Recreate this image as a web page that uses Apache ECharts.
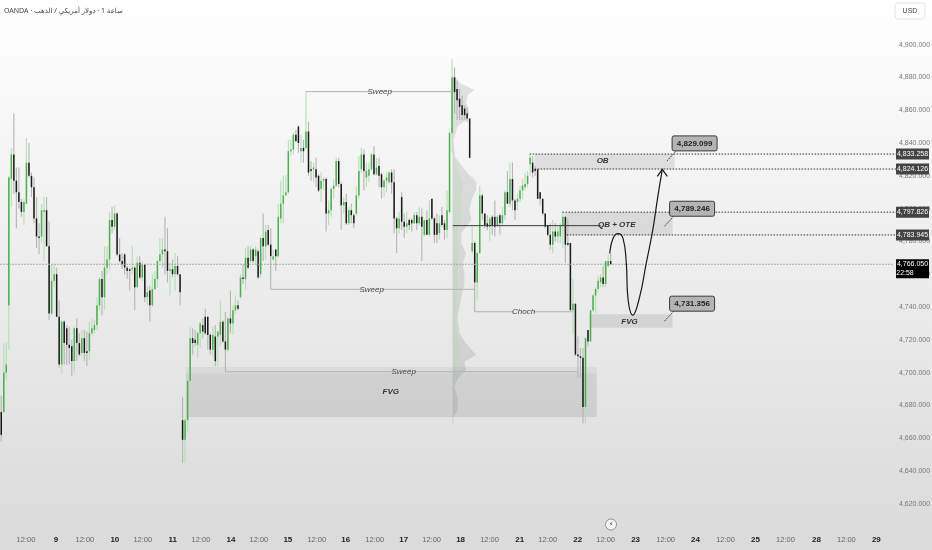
<!DOCTYPE html>
<html><head><meta charset="utf-8">
<style>html,body{margin:0;padding:0;background:#fff}#c{width:932px;height:550px}</style>
<script src="https://cdn.jsdelivr.net/npm/echarts@6/dist/echarts.min.js"></script>
</head><body><div id="c"></div>
<script>
const chartTitle = 'OANDA · ساعة 1 · دولار أمريكي / الذهب';
// [open, close, low, high] per hourly candle
const candlesA = [[4676,4662,4658,4686],[4676,4700,4675,4718],[4700,4705,4695,4719],[4741,4819,4714,4820],[4818,4833,4801,4837],[4833,4817,4809,4858],[4817,4810,4788,4825],[4810,4804,4800,4825],[4804,4798,4795,4806],[4798,4804,4790,4806],[4803,4828,4803,4843],[4828,4820,4819,4840],[4820,4813,4807,4822],[4813,4794,4791,4819],[4794,4783,4776,4807],[4783,4782,4772,4791],[4783,4799,4779,4803],[4798,4799,4768,4807],[4799,4777,4777,4807],[4777,4736,4732,4792],[4736,4756,4735,4766],[4756,4760,4752,4766],[4760,4734,4734,4764],[4734,4705,4703,4744],[4705,4731,4699,4732],[4731,4718,4705,4732],[4727,4717,4705,4729],[4717,4715,4705,4728],[4716,4707,4698,4720],[4707,4727,4700,4728],[4727,4718,4707,4733],[4718,4711,4710,4724],[4712,4721,4710,4726],[4721,4712,4707,4726],[4713,4712,4704,4725],[4713,4724,4708,4731],[4724,4727,4723,4733],[4726,4729,4724,4732],[4729,4741,4726,4746],[4741,4757,4738,4758],[4757,4746,4735,4762],[4746,4764,4738,4777],[4764,4769,4760,4777],[4769,4793,4763,4798],[4793,4789,4785,4801],[4789,4797,4787,4802],[4797,4772,4771,4798],[4772,4768,4767,4782],[4768,4766,4763,4773],[4772,4764,4760,4773],[4764,4762,4757,4765],[4763,4762,4750,4764],[4763,4764,4760,4777],[4764,4752,4738,4765],[4752,4767,4752,4771],[4767,4758,4757,4771],[4758,4766,4756,4768],[4766,4746,4743,4766],[4746,4749,4741,4753],[4750,4741,4731,4753],[4741,4751,4740,4760],[4751,4757,4750,4762],[4757,4768,4752,4769],[4768,4772,4767,4782],[4772,4775,4764,4782],[4775,4774,4760,4795],[4774,4762,4755,4788],[4762,4763,4747,4767],[4763,4760,4758,4769],[4760,4765,4750,4773],[4765,4760,4759,4771],[4760,4749,4741,4760]];
const candlesB = [[4671,4659,4645,4685],[4659,4671,4645,4672],[4671,4695,4664,4696],[4695,4721,4694,4728],[4721,4718,4711,4727],[4720,4718,4716,4726],[4717,4724,4709,4725],[4724,4730,4715,4731],[4729,4725,4721,4733],[4734,4724,4723,4739],[4734,4723,4714,4734],[4723,4714,4711,4724],[4714,4723,4710,4728],[4722,4707,4704,4729],[4722,4725,4704,4725],[4723,4731,4716,4744],[4731,4719,4718,4732],[4719,4714,4700.5,4737],[4714,4733,4713,4734],[4733,4730,4724,4750],[4730,4738,4723,4741],[4738,4741,4736,4747],[4741,4739,4738,4744],[4746,4758,4745,4760],[4758,4757,4754,4766],[4757,4770,4751,4776],[4770,4764,4763,4777],[4768,4775,4767,4777],[4775,4768,4767,4776],[4771,4775,4766,4777],[4774,4758,4757,4775],[4760,4782,4758,4783],[4782,4777,4768,4797],[4777,4786,4769,4790],[4787,4778,4777,4790],[4778,4771,4751,4788],[4769,4771,4768,4775],[4775,4771,4762,4775],[4771,4795,4770,4803],[4794,4803,4791,4817],[4803,4808,4791,4820],[4808,4810,4809,4820.5],[4810,4835,4809,4842],[4835,4836,4832,4842],[4836,4845,4833,4846],[4845,4841,4841,4848]];
const candlesC = [[4850,4840,4834,4851],[4835,4837,4828,4845],[4837,4835,4828,4842],[4837,4847,4836,4871],[4847,4822,4820,4853],[4824,4823,4817,4829],[4824,4825,4816,4828],[4824,4819,4813,4831],[4820,4811,4810,4821],[4812,4817,4804,4822],[4817,4818,4811,4819],[4818,4797,4786,4819],[4797,4799,4790,4805],[4799,4812,4795,4813],[4812,4814,4806,4818],[4814,4829,4813,4831],[4829,4815,4813,4831],[4815,4802,4787,4816],[4802,4804,4797,4807],[4804,4791,4790,4809],[4791,4799,4790,4801],[4799,4796,4791,4803],[4796,4791,4788,4797],[4797,4808,4796,4813],[4808,4823,4806,4832],[4824,4833,4822,4837],[4833,4823,4811,4836],[4819,4823,4813,4828],[4820,4824,4816,4828],[4824,4833,4823,4834],[4833,4821,4820,4838],[4821,4825,4820,4831],[4826,4820,4813,4831],[4821,4813,4806,4822],[4813,4817,4807,4818],[4817,4819,4810,4822],[4816,4822,4815,4823],[4822,4816,4809,4824],[4816,4794,4785,4824],[4794,4788,4773,4795],[4788,4794,4785,4798],[4807,4792,4787,4810],[4792,4789,4782,4797],[4789,4791,4785,4798],[4793,4790,4787,4794],[4793,4791,4786,4794],[4791,4796,4791,4798],[4796,4791,4787,4798],[4791,4795,4790,4801],[4795,4789,4768,4800],[4784,4793,4783,4793],[4793,4784,4784,4799],[4784,4794,4783,4805],[4806,4794,4793,4806],[4794,4784,4779,4795],[4791,4784,4779,4797],[4785,4791,4781,4796],[4796,4790,4789,4801],[4791,4787,4781,4793],[4787,4799,4782,4811],[4798,4846,4797,4847],[4846,4880,4834,4891],[4880,4871,4858,4886],[4873,4866,4854,4878],[4867,4862,4854,4873],[4863,4857,4854,4869],[4861,4857,4854,4863],[4858,4855,4853,4862],[4855,4831,4830.5,4855]];
const candlesD = [[4774,4779,4773,4789],[4779,4755,4737,4780],[4755,4773,4744,4774],[4773,4808,4772,4814],[4808,4797,4793,4809],[4797,4790,4788,4797],[4791,4789,4787,4796],[4789,4794,4780,4795],[4795,4790,4784,4796],[4795,4789,4783,4805],[4790,4795,4789,4796],[4796,4791,4784,4797],[4791,4796,4790,4801],[4796,4810,4793,4811],[4810,4803,4803,4823],[4803,4818,4801,4828],[4818,4805,4799,4828],[4805,4799,4793,4806],[4804,4806,4799,4809],[4806,4811,4804,4814],[4811,4814,4806,4818],[4813,4815,4811,4822],[4815,4820,4813,4823],[4827,4831,4820,4833],[4828,4822,4819,4832],[4824,4823,4820,4826],[4824,4806,4806,4824],[4810,4806,4802,4810],[4806,4797,4796,4806],[4797,4789,4788,4797],[4790,4784,4783,4790],[4784,4778,4775,4791],[4778,4786,4773,4793],[4786,4783,4780,4791],[4783,4786,4779,4789],[4783,4790,4779,4791],[4790,4795,4776,4798],[4795,4778,4767,4795],[4779,4778,4777,4794],[4779,4738,4738,4779],[4738,4742,4724,4757],[4742,4711,4710,4742],[4711,4710,4697,4722],[4710,4709,4697,4715],[4709,4679,4669,4715],[4679,4721,4669,4721],[4726,4719,4716,4726],[4719,4738,4719,4738],[4738,4747,4737,4748],[4747,4751,4736,4752],[4751,4756,4749,4759],[4755,4758,4752,4760],[4758,4754,4752,4765],[4754,4768,4752,4768],[4765,4768,4764,4772],[4768,4766,4765.6,4773]];

const yMin = 4600, yMax = 4920, yStep = 20;
const lastPrice = 4766.05, countdown = '22:58';
const xTickPositions = [9.8,21.7,33.2,45.1,56.2,68.1,79.3,91.2,102.3,113.8,125.3,136.8,148.3,159.8,170.9,182.4,193.9,205.9,217,228.9,240,251.9,263.8,275.7,287.6,299.5,311.4,323.7,335.6,347.5];
const xTickLabels = ['12:00','9','12:00','10','12:00','11','12:00','14','12:00','15','12:00','16','12:00','17','12:00','18','12:00','21','12:00','22','12:00','23','12:00','24','12:00','25','12:00','28','12:00','29'];

// zones: [fromHour, toHour, topPrice, bottomPrice]
const zoneFvgBand = [73.3, 236.5, 4703.4, 4699.5];
const zoneFvgBig  = [73.3, 236.5, 4699.5, 4672.9];
const zoneOb      = [211.8, 267.4, 4833.258, 4824.126];
const zoneOte     = [223.8, 266.6, 4797.826, 4783.945];
const zoneFvgLow  = [233.6, 266.6, 4735.6, 4727.4];

// levels: from, to, price, label, label position
const levelLines = [
  [120.9,179.1,4871.3,'Sweep',150.3],
  [107,188,4750.8,'Sweep',147.1],
  [188,227,4737.1,'Choch',207.4],
  [89,229,4700.5,'Sweep',159.8]
];
const zoneLabels = [['FVG',154.7,4688.2],['OB',238.8,4829],['QB + OTE',244.4,4790.2],['FVG',249.5,4731]];
const strongLine = [179.3,238,4789.6];
const dottedLevels = [[209.8,4833.258],[211.8,4824.126],[222.9,4797.826],[224.5,4783.945]];
const calloutPoints = [[264.4,4829.099],[263.4,4789.246],[263.4,4731.356]];
// projected path: [hour, price]
const pathPoints = [[241.6,4772.7],[242.9,4781.8],[244.9,4784.7],[246.9,4781.8],[248.2,4766.6],[248.8,4746.2],[250.8,4735],[253.5,4746.2],[256.1,4766.6],[258.7,4786.9],[260.7,4807.2],[262.5,4823.9]];

// volume profile: [price, total width, green width], widths in hours
const profileRows = [[4880.4,1,0],[4876.4,3,0],[4872.3,8.8,0],[4869.3,6,0],[4865.2,5.4,0],[4862.1,6,0],[4858,6.7,0],[4854,5.4,0],[4850,2,0],[4841.8,.4,0],[4831.6,1,.8],[4826.6,3.5,1.5],[4821.5,6,2.5],[4816.4,9.4,4],[4811.3,9.4,4],[4805.2,7.5,3.5],[4799.1,6.7,3.5],[4793,7.5,3.5],[4789,5.4,2.5],[4784.9,3.5,2],[4778.8,3.5,2],[4772.7,5.4,2.5],[4766.6,4,2],[4760.5,4.7,2],[4754.4,4.7,2],[4746.3,3.5,1.5],[4740.2,2.8,1.5],[4734,2,1],[4723.9,2.8,1.5],[4717.8,5.4,2.5],[4710.7,9.4,3],[4706.6,4.7,1.5],[4701.5,5.4,1.5],[4696.4,2,.8],[4691.4,.8,.4],[4684.2,2,.8],[4677.1,2,.8],[4673.1,.4,.2],[4669,.2,.1]];
const profileBase = 179.2;

const candles = [...candlesA, ...candlesB, ...candlesC, ...candlesD];
const fmt = v => v.toLocaleString('en-US',{minimumFractionDigits:3,maximumFractionDigits:3});
const font = '"Liberation Sans",sans-serif';
const tickLookup = {}; xTickPositions.forEach((p,i)=>tickLookup[p]=xTickLabels[i]);
const xEnd = 354.5;

function text(x,y,t,s,extra){return Object.assign({type:'text',style:Object.assign({x,y,text:t,align:'center',verticalAlign:'middle',fontFamily:font},s)},extra||{});}
function seg(a,b,s){return {type:'line',shape:{x1:a[0],y1:a[1],x2:b[0],y2:b[1]},style:s};}

function zoneSeries(rows,color,z){return {type:'custom',coordinateSystem:'cartesian2d',z,clip:true,silent:true,
  data:rows,renderItem:(p,api)=>{const a=api.coord([api.value(0),api.value(2)]),b=api.coord([api.value(1),api.value(3)]);
  return {type:'rect',shape:{x:a[0],y:a[1],width:b[0]-a[0],height:b[1]-a[1]},style:{fill:color}};},encode:{x:[0,1],y:[2,3]}};}

function profilePoly(col,color,z){return {type:'custom',coordinateSystem:'cartesian2d',z,silent:true,clip:true,
  data:[[profileBase,profileRows[0][0]]],encode:{x:0,y:1},
  renderItem:(p,api)=>{const pts=[];const base0=api.coord([profileBase,profileRows[0][0]]);pts.push(base0);
    profileRows.forEach(r=>pts.push(api.coord([profileBase+r[col],r[0]])));
    pts.push(api.coord([profileBase,profileRows[profileRows.length-1][0]]));
    return {type:'polygon',shape:{points:pts},style:{fill:color}};}};}

const option = {
  animation:false,
  backgroundColor:{type:'linear',x:0,y:0,x2:0,y2:1,colorStops:[{offset:0,color:'#ffffff'},{offset:1,color:'#dadada'}]},
  title:{text:chartTitle,left:4,top:7,padding:0,textStyle:{fontSize:7,fontWeight:'normal',color:'#444',fontFamily:'"Noto Sans","DejaVu Sans",sans-serif'}},
  grid:{left:0,top:11.8,width:894,height:524.8,outerBoundsMode:'none'},
  xAxis:{type:'value',min:-0.5,max:xEnd,splitLine:{show:false},axisLine:{show:false},axisTick:{show:false},
    axisLabel:{customValues:xTickPositions,margin:-1,hideOverlap:false,showMinLabel:true,showMaxLabel:true,fontFamily:font,
      formatter:v=>{const t=tickLookup[v];return t==='12:00'?'{t|12:00}':'{d|'+t+'}';},
      rich:{t:{fontSize:7.5,color:'#666',fontFamily:font},d:{fontSize:8,fontWeight:'bold',color:'#222',fontFamily:font}}}},
  yAxis:{type:'value',position:'right',min:yMin,max:yMax,interval:yStep,splitLine:{show:false},axisLine:{show:false},axisTick:{show:false},
    axisLabel:{showMinLabel:false,showMaxLabel:false,margin:5,fontSize:7,color:'#777',fontFamily:font,formatter:fmt}},
  series:[
    zoneSeries([zoneFvgBand],'rgba(0,0,0,0.05)',1),
    zoneSeries([zoneFvgBig],'rgba(0,0,0,0.09)',1),
    zoneSeries([zoneOb,zoneOte,zoneFvgLow],'rgba(0,0,0,0.09)',1),
    profilePoly(1,'rgba(110,110,110,0.18)',2),
    profilePoly(2,'rgba(140,215,140,0.16)',2),
    {type:'custom',coordinateSystem:'cartesian2d',z:3,silent:true,data:candles.map((c,i)=>[i,...c]),encode:{x:0,y:[1,2,3,4]},
      renderItem:(p,api)=>{const x=api.value(0),o=api.value(1),c=api.value(2),l=api.value(3),h=api.value(4);
        const up=c>o;const pH=api.coord([x,h]),pL=api.coord([x,l]),pT=api.coord([x,Math.max(o,c)]),pB=api.coord([x,Math.min(o,c)]);
        return {type:'group',children:[
          seg(pH,pL,{stroke:up?'#b2dfb4':'#b4b4b4',lineWidth:1.1}),
          {type:'rect',shape:{x:pT[0]-0.75,y:pT[1],width:1.5,height:Math.max(pB[1]-pT[1],1)},style:{fill:up?'#4caf50':'#1a1a1a'}}
        ]};}},
    {type:'custom',coordinateSystem:'cartesian2d',z:4,silent:true,clip:false,data:levelLines.map(r=>[r[0],r[2]]),encode:{x:0,y:1},
      renderItem:(p,api)=>{const r=levelLines[p.dataIndex],a=api.coord([r[0],r[2]]),b=api.coord([r[1],r[2]]),m=api.coord([r[4],r[2]]);
        const s={stroke:'#b0b0b0',lineWidth:1};
        return {type:'group',children:[seg(a,[m[0]-10,m[1]],s),seg([m[0]+10,m[1]],b,s),
          text(m[0],m[1],r[3],{fontSize:8,fontStyle:'italic',fill:'#444'})]};}},
    {type:'custom',coordinateSystem:'cartesian2d',z:4,silent:true,data:zoneLabels.map(r=>[r[1],r[2]]),encode:{x:0,y:1},
      renderItem:(p,api)=>{const c=api.coord([api.value(0),api.value(1)]);
        return text(c[0],c[1],zoneLabels[p.dataIndex][0],{fontSize:8,fontStyle:'italic',fontWeight:'bold',fill:'#333'});}},
    {type:'line',z:4,silent:true,symbol:'none',showSymbol:false,data:[[strongLine[0],strongLine[2]],[strongLine[1],strongLine[2]]],lineStyle:{color:'#3a3a3a',width:1}},
    {type:'line',z:4,silent:true,symbol:'none',showSymbol:false,data:[[-0.5,lastPrice],[xEnd,lastPrice]],lineStyle:{color:'#a8a8a8',width:1,type:[2,1]}},
    {type:'custom',coordinateSystem:'cartesian2d',z:4,silent:true,clip:false,data:dottedLevels,encode:{x:0,y:1},
      renderItem:(p,api)=>{const a=api.coord([api.value(0),api.value(1)]),b=api.coord([xEnd,api.value(1)]);
        return {type:'group',children:[
          seg(a,[b[0]+2,b[1]],{stroke:'#333',lineWidth:1,lineDash:[1.5,1.5]}),
          {type:'rect',shape:{x:b[0]+2,y:b[1]-5.5,width:33,height:11},style:{fill:'#444'}},
          text(b[0]+18.5,b[1],fmt(api.value(1)),{fontSize:7,fill:'#fff'})]};}},
    {type:'custom',coordinateSystem:'cartesian2d',z:6,silent:true,clip:false,data:[[xEnd,lastPrice]],encode:{x:0,y:1},
      renderItem:(p,api)=>{const b=api.coord([xEnd,api.value(1)]);
        return {type:'group',children:[
          {type:'rect',shape:{x:b[0]+2,y:b[1]-5,width:33,height:19},style:{fill:'#000'}},
          text(b[0]+18.5,b[1],fmt(api.value(1)),{fontSize:7,fill:'#fff'}),
          text(b[0]+11,b[1]+9,countdown,{fontSize:7,fill:'#fff'})]};}},
    {type:'line',z:5,silent:true,symbol:'none',showSymbol:false,smooth:0.45,data:pathPoints,lineStyle:{color:'#1a1a1a',width:1.2}},
    {type:'custom',coordinateSystem:'cartesian2d',z:5,silent:true,data:[pathPoints[pathPoints.length-1]],encode:{x:0,y:1},
      renderItem:(p,api)=>{const t=api.coord([api.value(0),api.value(1)]);
        return {type:'polyline',shape:{points:[[t[0]-5,t[1]+7],t,[t[0]+5,t[1]+7]]},style:{stroke:'#1a1a1a',lineWidth:1.2,fill:'none'}};}},
    {type:'custom',coordinateSystem:'cartesian2d',z:7,silent:true,clip:false,data:calloutPoints,encode:{x:0,y:1},
      renderItem:(p,api)=>{const a=api.coord([api.value(0),api.value(1)]);
        const bx=a[0]+5,by=a[1]-25,w=45,h=15;
        return {type:'group',children:[
          seg(a,[bx+4,by+h],{stroke:'#333',lineWidth:1,lineDash:[1.5,1]}),
          {type:'rect',shape:{x:bx,y:by,width:w,height:h,r:2},style:{fill:'#b4b4b4',stroke:'#3a3a3a',lineWidth:1}},
          text(bx+w/2,by+h/2,fmt(api.value(1)),{fontSize:8,fontWeight:'bold',fill:'#222'})]};}}
  ],
  graphic:[
    {type:'rect',shape:{x:895,y:3,width:30,height:16,r:3},style:{fill:'#fff',stroke:'#e4e4e4'}},
    {type:'text',style:{x:910,y:11,text:'USD',align:'center',verticalAlign:'middle',fontSize:7,fill:'#444',fontFamily:font}},
    {type:'circle',shape:{cx:611,cy:524.5,r:5.5},style:{fill:'#f6f6f6',stroke:'#777',lineWidth:0.8}},
    {type:'text',style:{x:611,y:524.5,text:'⚡',align:'center',verticalAlign:'middle',fontSize:6,fill:'#333',fontFamily:'"DejaVu Sans",sans-serif'}}
  ]
};
echarts.init(document.getElementById('c'),null,{renderer:'canvas'}).setOption(option);
</script></body></html>
